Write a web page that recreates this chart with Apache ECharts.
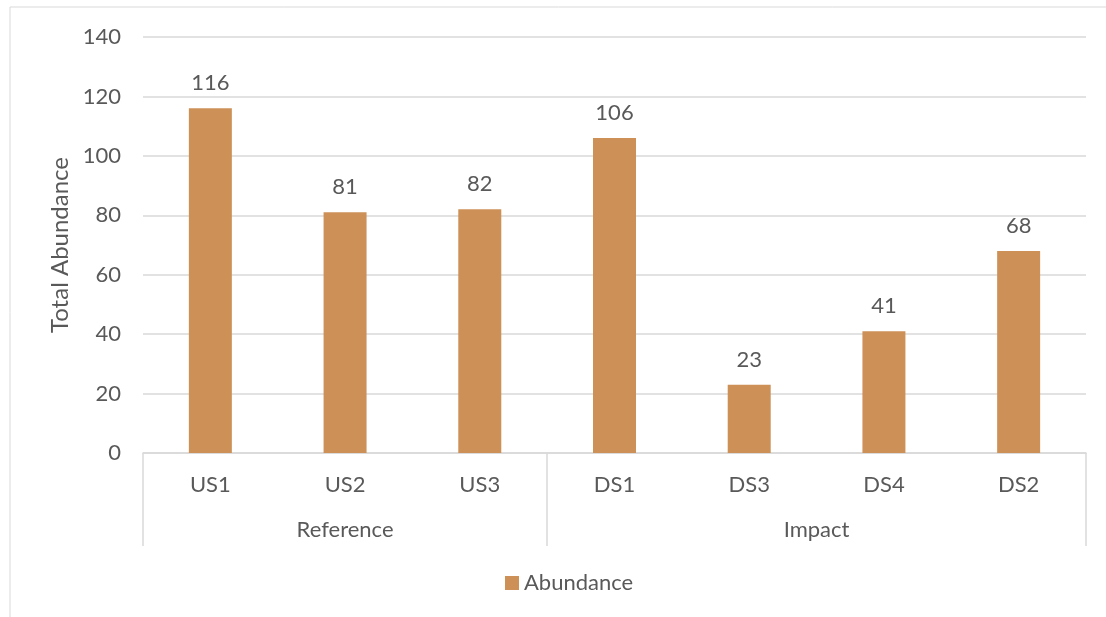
<!DOCTYPE html>
<html>
<head>
<meta charset="utf-8">
<script src="https://cdn.jsdelivr.net/npm/echarts@6/dist/echarts.min.js"></script>
<style>
html,body{margin:0;padding:0;background:#fff;}
#c{width:1106px;height:617px;}
</style>
</head>
<body>
<div id="c"></div>
<script>
const categories = ['US1','US2','US3','DS1','DS3','DS4','DS2'];
const abundance = [116, 81, 82, 106, 23, 41, 68];
const groupNames = ['Reference','Impact'];
const groupSizes = [3, 4];
const yTicks = [0, 20, 40, 60, 80, 100, 120, 140];

const FONT = 'Lato';
const TXT = '#595959';
const GRID = '#d9d9d9';
const BAR = '#CD9158';

// group boundaries and centres on a 0..N scale
const bounds = [0];
groupSizes.forEach(s => bounds.push(bounds[bounds.length-1] + s));
const centres = groupSizes.map((s, i) => bounds[i] + s / 2);
const total = bounds[bounds.length-1];

const chart = echarts.init(document.getElementById('c'));
chart.setOption({
  animation: false,
  textStyle: { fontFamily: FONT },
  graphic: [{
    type: 'rect',
    shape: { x: 10, y: 7, width: 1200, height: 700 },
    style: { fill: 'none', stroke: GRID, lineWidth: 1 },
    silent: true, z: -10
  }],
  grid: { left: 143, right: 20, top: 37, bottom: 164, containLabel: false },
  legend: {
    data: ['Abundance'],
    left: 500, top: 567,
    itemWidth: 14, itemHeight: 14, itemGap: 10,
    icon: 'rect',
    textStyle: { color: TXT, fontSize: 22, fontFamily: FONT }
  },
  xAxis: [{
    type: 'category',
    data: categories,
    axisLine: { show: true, lineStyle: { color: GRID, width: 1.5 } },
    axisTick: { show: false },
    axisLabel: { color: TXT, fontSize: 22, fontFamily: FONT, margin: 21 }
  }, {
    type: 'value',
    position: 'bottom',
    min: 0, max: total,
    splitLine: { show: false },
    axisLine: { show: false },
    axisTick: { show: true, inside: false, length: 93, customValues: bounds,
      lineStyle: { color: GRID, width: 1.5 } },
    axisLabel: {
      color: TXT, fontSize: 22, fontFamily: FONT, margin: 66,
      customValues: centres,
      formatter: v => { const i = centres.indexOf(v); return i >= 0 ? groupNames[i] : ''; }
    }
  }],
  yAxis: {
    type: 'value',
    min: yTicks[0], max: yTicks[yTicks.length-1], interval: 20,
    name: 'Total Abundance',
    nameLocation: 'middle',
    nameGap: 68,
    nameTextStyle: { color: TXT, fontSize: 24, fontFamily: FONT },
    axisLine: { show: false },
    axisTick: { show: false },
    axisLabel: { color: TXT, fontSize: 22, fontFamily: FONT, margin: 22 },
    splitLine: { lineStyle: { color: GRID, width: 1.5 } }
  },
  series: [{
    name: 'Abundance',
    type: 'bar',
    xAxisIndex: 0,
    data: abundance,
    barWidth: 43,
    itemStyle: { color: BAR },
    label: { show: true, position: 'top', distance: 14, color: TXT, fontSize: 22, fontFamily: FONT }
  }]
});
</script>
</body>
</html>
